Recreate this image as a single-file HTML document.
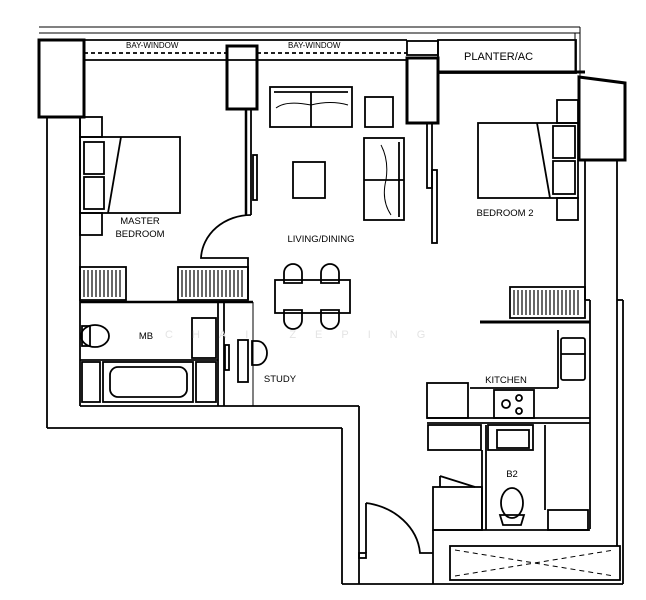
<!DOCTYPE html>
<html><head><style>
html,body{margin:0;padding:0;background:#fff;}
svg{display:block}
text{font-family:"Liberation Sans",sans-serif;fill:#000}
</style></head><body>
<svg width="646" height="600" viewBox="0 0 646 600" xmlns="http://www.w3.org/2000/svg">
<g fill="none" stroke="#000" stroke-width="1.8">
<line x1="39" y1="27" x2="580" y2="27" stroke-width="1"/>
<line x1="39" y1="33" x2="580" y2="33" stroke-width="1"/>
<line x1="580" y1="27" x2="580" y2="76" stroke-width="1"/>
<line x1="575" y1="33" x2="575" y2="73" stroke-width="1"/>
<line x1="84" y1="40" x2="407" y2="40"/>
<line x1="84" y1="60" x2="407" y2="60"/>
<line x1="84" y1="53" x2="226" y2="53" stroke-dasharray="4,3"/>
<line x1="257" y1="53" x2="407" y2="53" stroke-dasharray="4,3"/>
<rect x="438" y="40" width="138" height="33"/>
<line x1="438" y1="72" x2="585" y2="72" stroke-width="3"/>
<rect x="39" y="40" width="45" height="77" stroke-width="3"/>
<rect x="227" y="46" width="30" height="63" stroke-width="3"/>
<rect x="407" y="58" width="31" height="65" stroke-width="3"/>
<rect x="407" y="41" width="31" height="14"/>
<polygon points="579,77 625,83 625,160 579,160" stroke-width="3"/>
<line x1="47" y1="117" x2="47" y2="428"/>
<line x1="80" y1="117" x2="80" y2="406"/>
<line x1="47" y1="428" x2="342" y2="428"/>
<line x1="80" y1="406" x2="359" y2="406"/>
<line x1="342" y1="428" x2="342" y2="584"/>
<line x1="359" y1="406" x2="359" y2="584"/>
<line x1="342" y1="584" x2="623" y2="584"/>
<line x1="585" y1="160" x2="585" y2="300"/>
<line x1="617" y1="160" x2="617" y2="546"/>
<line x1="623" y1="300" x2="623" y2="584"/>
<line x1="590" y1="300" x2="590" y2="529"/>
<line x1="617" y1="300" x2="623" y2="300"/>
<line x1="585" y1="300" x2="590" y2="300"/>
<line x1="246" y1="109" x2="246" y2="215" stroke-width="2.5"/>
<line x1="251" y1="109" x2="251" y2="215"/>
<rect x="253" y="155" width="4" height="45"/>
<path d="M251,215 A50,45 0 0 0 201,258 L248,258 L248,300"/>
<rect x="80" y="137" width="100" height="76"/>
<rect x="84" y="142" width="20" height="32"/><rect x="84" y="177" width="20" height="32"/>
<line x1="121" y1="137" x2="108" y2="213"/>
<rect x="80" y="117" width="22" height="20"/><rect x="80" y="213" width="22" height="22"/>
<rect x="80" y="267" width="46" height="33"/>
<rect x="178" y="267" width="70" height="33"/>
<rect x="510" y="287" width="75" height="31"/>
<g stroke-width="1.2">
<path d="M84,270v27M88,270v27M92,270v27M96,270v27M100,270v27M104,270v27M108,270v27M112,270v27M116,270v27M120,270v27"/>
<path d="M182,270v27M186,270v27M190,270v27M194,270v27M198,270v27M202,270v27M206,270v27M210,270v27M214,270v27M218,270v27M222,270v27M226,270v27M230,270v27M234,270v27M238,270v27M242,270v27"/>
<path d="M514,290v25M518,290v25M522,290v25M526,290v25M530,290v25M534,290v25M538,290v25M542,290v25M546,290v25M550,290v25M554,290v25M558,290v25M562,290v25M566,290v25M570,290v25M574,290v25M578,290v25"/>
</g>
<line x1="80" y1="302" x2="253" y2="302" stroke-width="2.5"/>
<line x1="218" y1="302" x2="218" y2="406"/>
<line x1="80" y1="360" x2="218" y2="360"/>
<rect x="103" y="362" width="90" height="40"/>
<rect x="110" y="367" width="77" height="30" rx="8"/>
<rect x="192" y="318" width="24" height="40"/>
<ellipse cx="95" cy="336" rx="14" ry="11"/>
<rect x="82" y="326" width="8" height="20"/>
<rect x="82" y="362" width="18" height="40"/><rect x="196" y="362" width="20" height="40"/>
<line x1="224" y1="302" x2="224" y2="406"/>
<line x1="253" y1="302" x2="253" y2="406" stroke-width="1"/>
<rect x="225" y="345" width="4" height="25"/>
<rect x="238" y="340" width="10" height="42"/>
<path d="M252,341 h5 a10,12 0 0 1 0,24 h-5z"/>
<rect x="270" y="87" width="82" height="40"/>
<line x1="274" y1="92" x2="348" y2="92"/><line x1="311" y1="92" x2="311" y2="127"/>
<path d="M276,108 q10,-8 35,-3 q20,-5 37,0" stroke-width="1"/>
<rect x="365" y="97" width="28" height="30"/>
<rect x="364" y="138" width="40" height="82"/>
<line x1="364" y1="180" x2="404" y2="180"/><line x1="399" y1="142" x2="399" y2="217"/>
<path d="M381,145 q8,15 5,35 q-5,20 5,35" stroke-width="1"/>
<rect x="293" y="162" width="32" height="36"/>
<rect x="275" y="280" width="75" height="33"/>
<path d="M284,283 v-10 a9,9 0 0 1 18,0 v10z M321,283 v-10 a9,9 0 0 1 18,0 v10z"/>
<path d="M284,310 v10 a9,9 0 0 0 18,0 v-10z M321,310 v10 a9,9 0 0 0 18,0 v-10z"/>
<rect x="427" y="123" width="5" height="65"/>
<rect x="432" y="170" width="5" height="73"/>
<rect x="478" y="123" width="100" height="75"/>
<line x1="537" y1="123" x2="550" y2="198"/>
<rect x="553" y="126" width="22" height="32"/><rect x="553" y="161" width="22" height="33"/>
<rect x="557" y="100" width="21" height="23"/><rect x="557" y="198" width="21" height="22"/>
<line x1="480" y1="322" x2="590" y2="322" stroke-width="3"/>
<line x1="558" y1="330" x2="558" y2="388"/>
<line x1="470" y1="388" x2="558" y2="388"/>
<rect x="561" y="338" width="24" height="42" rx="2"/>
<line x1="561" y1="354" x2="585" y2="354"/>
<rect x="427" y="383" width="41" height="35"/>
<rect x="494" y="390" width="40" height="28"/>
<circle cx="506" cy="404" r="4"/><circle cx="519" cy="398" r="3"/><circle cx="519" cy="411" r="3"/>
<line x1="427" y1="418" x2="590" y2="418"/>
<line x1="427" y1="423" x2="590" y2="423"/>
<rect x="428" y="425" width="53" height="25"/>
<rect x="488" y="425" width="45" height="25"/>
<rect x="497" y="430" width="32" height="18"/>
<line x1="482" y1="450" x2="482" y2="530"/>
<line x1="486" y1="425" x2="486" y2="530"/>
<line x1="545" y1="425" x2="545" y2="510"/>
<rect x="548" y="510" width="40" height="20"/>
<rect x="433" y="487" width="49" height="43"/>
<line x1="440" y1="476" x2="475" y2="487"/><line x1="440" y1="476" x2="440" y2="487"/>
<ellipse cx="512" cy="503" rx="11" ry="15"/>
<path d="M500,515 h24 l-3,10 h-18z"/>
<line x1="433" y1="530" x2="590" y2="530"/>
<line x1="433" y1="530" x2="433" y2="584"/>
<rect x="450" y="546" width="170" height="34"/>
<line x1="455" y1="550" x2="614" y2="576" stroke-dasharray="5,4" stroke-width="1"/>
<line x1="455" y1="576" x2="614" y2="550" stroke-dasharray="5,4" stroke-width="1"/>
<rect x="359" y="553" width="7" height="5"/>
<path d="M366,503 v50 M366,503 A64,55 0 0 1 420,553 h13"/>
</g>
<g font-size="8">
<text x="126" y="48">BAY-WINDOW</text>
<text x="288" y="48">BAY-WINDOW</text>
</g>
<text x="464" y="60" font-size="11">PLANTER/AC</text>
<g font-size="9.5" text-anchor="middle">
<text x="140" y="224">MASTER</text>
<text x="140" y="237">BEDROOM</text>
<text x="321" y="242">LIVING/DINING</text>
<text x="505" y="216">BEDROOM 2</text>
<text x="146" y="339">MB</text>
<text x="280" y="382">STUDY</text>
<text x="506" y="383">KITCHEN</text>
<text x="512" y="477">B2</text>
</g>
<text x="165" y="338" font-size="11" style="fill:#e4e4e4;letter-spacing:19px">CHAI ZEPING</text>
</svg>
</body></html>
